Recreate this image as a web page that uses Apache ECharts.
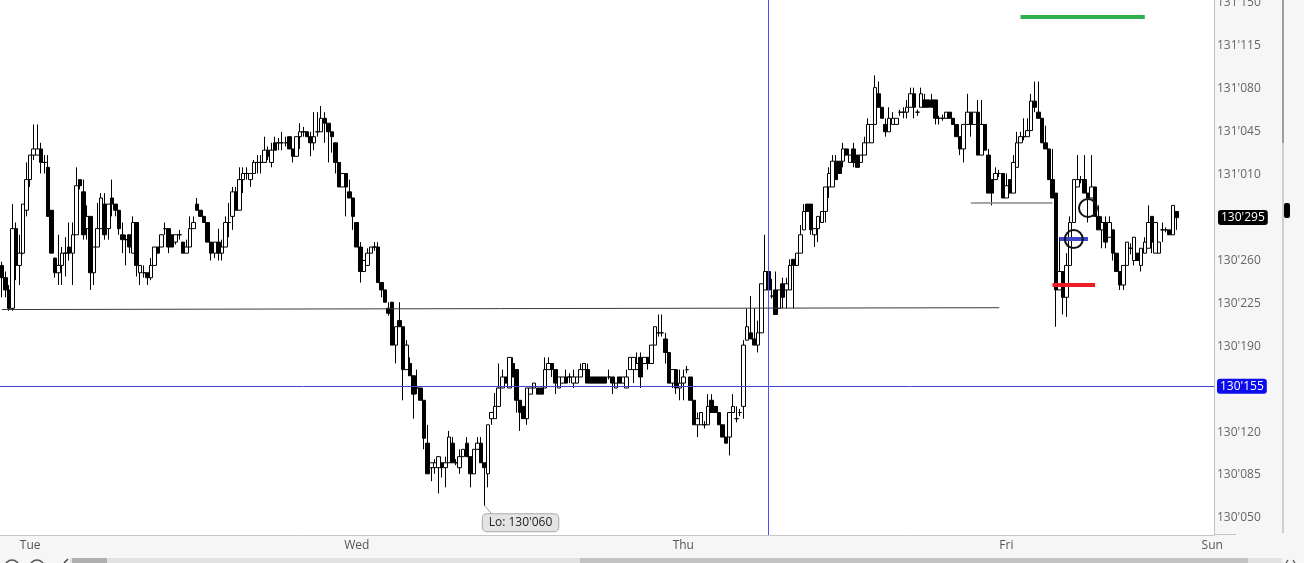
<!DOCTYPE html>
<html>
<head>
<meta charset="utf-8">
<script src="https://cdn.jsdelivr.net/npm/echarts@6/dist/echarts.min.js"></script>
<style>
  html, body { margin: 0; padding: 0; background: #f6f6f6; }
  #chart { width: 1304px; height: 563px; }
</style>
</head>
<body>
<div id="chart"></div>
<script>
// prices are kept in 32nds above 130 (29.5 -> 130'295, 33 -> 131'010)
// each bar: [open, close, low, high]
const monBars = [
  [25.6,24.6,23.0,25.9],[24.6,23.6,23.0,25.1],[23.6,22.1,21.9,24.0],[22.1,28.6,21.9,30.6],
  [28.6,25.6,24.4,29.1],[25.6,26.6,24.0,28.1],[26.6,30.6,26.5,30.6],[30.1,32.6,29.6,34.0]
];
const tueBars = [
  [32.6,34.6,32.0,34.6],[34.6,35.1,34.2,37.1],[34.6,35.1,34.6,37.1],[35.1,34.0,33.1,35.6],
  [34.0,34.0,33.1,34.6],[33.6,29.6,29.6,34.6],[30.1,26.6,26.6,30.1],[26.2,25.0,24.6,26.2],
  [25.0,25.6,24.0,28.1],[25.6,26.6,24.0,27.1],[26.6,26.6,24.7,27.9],[27.1,26.6,26.0,29.1],
  [26.6,28.1,24.0,29.1],[28.1,32.1,28.1,33.6],[32.6,32.1,31.8,32.6],[31.6,28.1,27.7,32.6],
  [28.6,29.6,27.7,30.5],[29.6,25.0,23.6,29.6],[25.0,27.1,24.0,27.1],[27.1,28.6,27.1,30.7],
  [28.6,31.1,28.6,31.5],[30.6,28.1,27.7,31.5],[28.6,30.6,27.7,30.6],[31.1,30.6,29.6,32.6],
  [30.6,30.1,29.6,30.6],[30.1,28.6,28.1,30.1],[28.1,27.7,26.6,29.1],[27.7,27.7,25.6,28.1],
  [28.1,27.1,26.6,28.1],[26.6,29.1,26.6,29.6],[29.1,25.6,24.7,29.1],[25.0,25.6,24.0,25.6],
  [25.0,25.0,24.6,25.6],[25.0,24.6,24.0,25.0],[24.6,25.6,24.4,26.2],[25.6,27.1,25.6,27.1],
  [27.1,26.6,26.6,27.1],[27.1,28.1,27.1,28.1],[28.6,28.6,28.1,29.1],[28.6,27.1,26.6,28.6],
  [28.1,27.1,27.1,28.1],[27.5,28.1,27.3,28.1],[28.1,28.1,27.7,28.5],[27.5,26.6,26.6,27.5],
  [26.6,27.1,26.6,27.7],[27.1,28.6,27.1,29.6],[28.6,29.1,28.6,29.6],[30.6,30.1,30.1,31.1],
  [30.1,29.6,29.6,30.1],[29.6,29.1,29.1,29.6],[29.1,27.5,27.5,29.1],[27.5,26.6,26.0,27.5],
  [26.6,27.5,26.2,27.5],[27.5,26.6,26.0,28.6],[26.6,27.1,26.0,27.7],[27.1,29.1,27.1,29.6],
  [29.1,29.1,27.9,30.7],[29.6,31.6,28.5,32.0],[31.6,30.1,30.1,32.0],[30.1,32.6,30.1,33.6],
  [32.6,33.1,31.5,33.6],[33.1,33.1,32.6,33.6],[32.6,33.1,32.0,33.1],[33.1,34.0,33.1,34.2],
  [34.0,34.0,33.1,34.6],[34.0,34.0,33.1,34.6],[34.0,35.0,34.0,36.1],[35.0,34.5,34.2,35.3],
  [34.0,35.0,33.6,35.6],[35.6,35.0,35.0,36.1],[35.6,35.6,35.0,36.0],[35.6,35.6,35.0,36.5],
  [35.6,35.6,35.3,36.1],[36.1,35.1,35.1,36.1],[35.1,34.5,34.0,35.1],[34.5,36.1,34.5,36.1],
  [36.1,36.5,35.1,37.2],[36.5,36.5,36.1,36.9],[36.5,36.1,36.1,36.5],[36.1,35.6,34.5,36.5],
  [35.6,36.1,35.0,38.1],[36.5,36.5,36.1,38.1],[36.5,37.6,36.5,38.6],[37.6,37.2,35.6,38.1],
  [37.2,36.5,34.0,37.2],[36.5,36.1,34.8,36.5],[35.6,34.0,33.1,35.6],[34.0,32.0,32.0,34.0],
  [32.0,33.1,32.0,33.1],[33.1,32.0,29.6,33.1],[31.6,31.1,31.1,32.6],[31.1,29.6,28.5,31.1]
];
const wedBars = [
  [29.1,27.1,27.1,29.1],[27.1,25.1,24.2,27.5],[25.1,26.0,25.1,26.0],[25.6,26.6,25.6,27.0],
  [26.6,27.1,26.6,27.1],[27.1,27.1,26.8,27.5],[27.1,24.2,24.2,27.5],[24.2,23.6,23.0,24.2],
  [23.6,22.6,22.6,23.6],[22.1,21.7,21.5,22.6],[22.6,19.1,19.1,22.6],[19.1,20.6,17.6,20.6],
  [21.1,20.6,20.6,22.6],[20.6,17.1,14.6,20.6],[17.1,19.1,17.1,19.5],[17.6,16.6,16.6,18.1],
  [16.6,15.1,13.1,16.6],[15.6,15.6,15.1,17.1],[15.6,14.6,14.6,15.6],[14.6,11.5,10.6,14.6],
  [11.1,8.6,8.6,12.6],[9.1,9.5,8.0,9.5],[9.1,9.5,8.6,9.8],[9.1,10.0,7.0,10.0],
  [9.5,9.1,8.3,9.5],[9.1,9.5,7.5,10.0],[9.5,11.6,9.5,12.1],[11.1,9.5,9.5,11.6],
  [9.5,9.5,9.3,9.8],[9.1,10.0,8.6,10.6],[10.0,10.6,10.0,10.6],[11.1,10.0,10.0,11.6],
  [10.0,8.6,7.5,10.0],[8.6,10.6,8.6,10.6],[10.6,11.1,10.6,11.6],[11.1,9.5,9.5,11.6],
  [9.5,9.1,6.0,9.5],[8.6,12.6,7.5,12.6],[13.1,13.6,12.6,13.6],[13.1,14.1,13.1,15.2],
  [14.1,15.6,14.1,17.6],[15.6,16.5,15.6,17.1],[16.5,16.0,16.0,16.5],[15.6,18.1,15.6,18.1],
  [17.6,16.5,16.5,18.1],[17.1,14.6,13.6,17.1],[14.6,13.6,12.1,14.6],[14.1,13.1,13.1,14.1],
  [13.1,15.6,12.6,15.6],[15.1,15.6,15.1,15.6],[15.6,16.0,15.6,16.0],[15.6,15.1,15.1,15.6],
  [15.6,15.1,15.1,15.6],[15.6,17.1,15.6,18.1],[17.1,17.6,17.1,18.1],[17.6,17.1,16.5,17.6],
  [17.1,16.0,15.1,17.1],[15.6,16.5,15.6,16.5],[16.0,16.5,16.0,16.5],[16.5,16.0,16.0,17.1],
  [16.5,16.5,16.0,16.8],[16.0,16.5,15.6,17.1],[16.0,16.5,16.0,16.5],[16.5,17.1,16.5,17.6],
  [17.1,17.6,17.1,17.6],[17.1,16.0,16.0,17.6],[16.5,16.0,16.0,16.5],[16.5,16.0,16.0,16.5],
  [16.5,16.0,16.0,16.5],[16.5,16.0,16.0,16.5],[16.5,16.0,16.0,16.5],[16.5,16.5,16.3,17.1],
  [16.5,16.0,15.1,16.5],[15.6,16.0,15.6,16.0],[16.5,16.0,16.0,16.5],[16.0,16.5,16.0,16.5],
  [15.6,16.5,15.6,17.1],[17.1,18.1,17.1,18.1],[17.1,18.1,16.0,18.1],[17.1,17.6,17.1,18.5],
  [18.1,16.5,15.6,18.5],[17.6,18.1,17.6,18.1],[18.1,17.6,17.1,18.1],[17.6,19.1,17.6,19.1],
  [19.1,20.6,19.1,20.6],[20.1,20.1,19.8,21.6],[20.1,20.1,19.8,21.6],[19.6,18.5,17.6,20.1],
  [18.5,16.0,16.0,18.5],[16.0,17.1,15.6,17.1],[17.1,15.6,15.1,17.1],[15.6,16.0,14.6,17.1]
];
const thuBars = [
  [16.0,16.5,14.6,17.1],[17.1,17.1,16.8,17.4],[16.5,14.6,14.6,16.5],[14.6,12.6,12.6,14.6],
  [12.6,13.1,11.6,13.6],[12.6,13.6,12.6,13.6],[12.6,12.6,12.3,12.9],[12.6,14.1,12.6,15.1],
  [14.6,13.6,13.6,15.1],[14.1,13.6,13.6,14.1],[13.6,12.6,12.6,13.6],[12.6,11.6,11.6,12.6],
  [11.6,11.1,11.1,11.6],[11.6,13.6,10.1,13.6],[13.6,14.1,13.6,15.1],[13.1,13.1,12.8,14.1],
  [13.6,13.6,13.3,13.9],[14.1,19.1,13.1,19.5],[19.5,20.6,19.5,22.1],[20.1,19.6,19.6,23.1],
  [19.6,19.1,19.1,22.1],[19.1,20.1,18.5,21.1],[20.1,24.1,20.1,24.1],[23.6,25.1,23.6,28.1],
  [25.1,23.6,23.1,26.2],[23.1,23.1,22.9,24.5],[23.6,21.6,21.6,25.1],[22.1,23.6,22.1,23.6],
  [24.1,23.0,22.1,24.6],[23.6,24.1,22.1,24.6],[23.6,25.6,23.6,26.1],[26.1,25.6,22.1,26.1],
  [25.6,26.6,25.6,26.6],[26.6,28.1,26.6,28.9],[28.5,30.0,28.5,30.6],[30.6,30.0,30.0,30.6],
  [30.6,28.5,28.1,30.6],[28.1,28.6,27.1,28.6],[28.6,29.6,27.5,29.6],[29.1,30.0,29.1,30.0],
  [30.0,32.0,29.1,32.0],[32.0,33.1,31.1,33.6],[32.0,34.1,32.0,34.6],[34.1,32.6,32.6,34.6],
  [34.1,33.1,33.1,34.1],[34.1,35.1,33.6,35.6],[35.1,34.6,34.6,35.1],[34.0,34.6,34.0,34.6],
  [35.1,34.0,33.6,35.6],[34.6,33.6,33.6,34.6],[34.0,34.6,34.0,34.6],[34.6,35.6,34.6,36.1],
  [35.6,37.1,35.6,37.6],[35.6,37.1,35.6,37.1],[37.1,40.1,37.1,41.1],[39.6,38.5,38.5,40.6],
  [38.5,37.6,37.6,38.5],[37.1,36.5,36.1,37.6],[36.5,37.6,36.5,38.5],[37.1,37.6,37.1,38.1],
  [37.1,37.6,37.1,37.6],[38.1,38.1,37.8,38.3],[38.1,38.1,37.6,38.5],[38.1,38.5,37.6,39.1],
  [38.5,39.6,38.5,40.1],[39.6,38.5,37.6,40.1],[38.1,38.1,37.8,38.3],[38.5,39.6,38.5,40.1],
  [39.1,38.5,38.5,39.6],[39.1,38.5,38.5,39.1],[39.1,38.5,38.5,39.6],[39.1,37.6,37.1,39.1],
  [37.6,37.6,37.1,37.8],[37.6,37.6,37.4,37.9],[37.6,38.1,37.6,38.1],[38.1,37.6,37.6,38.1],
  [37.6,37.1,37.1,37.6],[37.1,36.1,36.1,37.1],[36.1,35.1,34.6,36.1],[35.1,37.1,34.0,37.1],
  [37.1,38.1,37.1,39.6],[38.1,37.1,36.1,38.1],[37.1,38.1,37.1,38.1],[38.1,34.6,34.6,39.1],
  [34.6,37.1,34.6,39.1],[37.1,35.0,35.0,37.1],[34.6,31.5,31.5,35.1],[32.6,31.5,30.5,32.6],
  [32.6,33.1,32.6,33.6],[33.1,33.1,32.8,33.4],[33.1,31.1,31.1,33.1]
];
const friBars = [
  [31.1,32.1,31.1,33.1],[32.6,31.5,31.5,32.6],[31.5,34.0,31.5,34.6],[33.6,35.6,33.6,36.5],
  [35.6,36.1,35.6,36.5],[36.1,36.1,35.8,37.6],[36.1,36.6,36.1,37.6],[36.6,39.0,36.6,39.6],
  [39.0,38.5,38.1,40.6],[38.1,37.6,37.6,40.6],[37.6,35.6,35.6,37.6],[35.6,35.1,35.1,37.0],
  [35.1,32.6,32.6,35.1],[32.6,31.1,31.1,35.1],[31.5,23.6,20.6,31.5],[23.6,25.1,23.6,27.9],
  [25.1,23.0,21.6,25.1],[23.0,25.6,21.4,26.6],[25.6,29.1,25.6,29.6],[29.1,32.6,29.1,32.6],
  [32.0,32.6,32.0,34.6],[32.6,32.6,32.3,32.9],[32.6,31.5,31.5,34.6],[31.5,31.1,29.1,31.5],
  [31.1,32.0,31.1,34.6],[32.0,29.6,29.6,32.0],[29.6,28.5,28.5,30.5],[28.5,29.1,27.0,29.6],
  [29.1,27.5,27.0,29.6],[27.9,29.1,27.9,29.6],[28.5,26.6,26.0,28.5],[26.6,25.1,25.1,26.6],
  [25.1,24.0,23.6,25.1],[24.0,25.6,23.6,25.6],[25.6,27.5,25.6,27.5],[27.0,27.0,26.5,27.4],
  [26.0,27.9,25.6,27.9],[26.6,26.0,26.0,26.6],[25.6,27.0,25.1,27.0],[26.6,27.5,26.6,27.9],
  [27.0,29.1,27.0,30.5],[29.6,27.5,26.6,29.6],[26.6,29.1,26.6,29.1],[26.6,27.5,26.6,27.5],
  [28.5,28.5,27.5,29.1],[28.5,28.5,28.3,28.7],[28.5,28.1,28.1,28.5],[28.1,30.5,28.1,30.5],
  [30.0,29.5,28.5,30.0]
];

// time axis: 15 minute slots, day names shown where a session day starts
const slotCount = 342;
const dayStarts = [8, 100, 192, 283, 341];
const dayNames = ['Tue', 'Wed', 'Thu', 'Fri', 'Sun'];

// price axis ticks (32nds above 130)
const priceTicks = [5, 8.5, 12, 15.5, 19, 22.5, 26, 29.5, 33, 36.5, 40, 43.5, 47];

// drawn studies, in [slot, price]
const currentPrice = 15.75;
const cursorSlot = 216;
const trendLine = [[0, 22.0], [281, 22.15]];
const grayLevel = [[273.3, 30.7], [296.1, 30.7]];
const redLevel = [[295.6, 24.0], [307.7, 24.0]];
const blueLevel = [[298.1, 27.75], [306, 27.75]];
const greenLevel = [[286.8, 45.86], [322, 45.86]];
const circleMarks = [[301.5, 27.75], [306, 30.28]];

const bars = monBars.concat(tueBars, wedBars, thuBars, friBars);

function fmt32(v) {
  const half = Math.floor(v * 2 + 1e-6) / 2;
  const whole = Math.floor(half / 32);
  const frac = half - whole * 32;
  return (130 + whole) + "'" + String(Math.round(frac * 10)).padStart(3, '0');
}

const categories = [];
for (let i = 0; i < slotCount; i++) {
  let d = -1;
  for (let k = 0; k < dayStarts.length; k++) if (i >= dayStarts[k]) d = k;
  const name = d < 0 ? 'Mon' : dayNames[d];
  const mins = d < 0 ? 24 * 60 - (dayStarts[0] - i) * 15 : (i - dayStarts[d]) * 15;
  categories.push(name + ' ' + String(Math.floor(mins / 60)).padStart(2, '0') + ':' + String(mins % 60).padStart(2, '0'));
}

let loIdx = 0;
bars.forEach((b, i) => { if (b[2] < bars[loIdx][2]) loIdx = i; });
const loVal = bars[loIdx][2];
const lastClose = bars[bars.length - 1][1];

function seg(pts, color, width) {
  const ls = { color: color, width: width, type: 'solid', cap: 'butt' };
  return [{ coord: pts[0], lineStyle: ls }, { coord: pts[1], lineStyle: ls }];
}

const chart = echarts.init(document.getElementById('chart'));
chart.setOption({
  animation: false,
  backgroundColor: '#f6f6f6',
  textStyle: { fontFamily: 'Open Sans' },
  grid: {
    left: 0, right: 90, top: 0, bottom: 28,
    show: true, backgroundColor: '#ffffff', borderWidth: 0,
    containLabel: false, outerBoundsMode: 'none'
  },
  xAxis: {
    type: 'category',
    data: categories,
    boundaryGap: true,
    axisLine: { show: true, lineStyle: { color: '#c6c6c6', width: 1 } },
    axisTick: { show: false },
    splitLine: { show: false },
    axisLabel: {
      color: '#555', fontSize: 12, margin: 5,
      interval: (i) => dayStarts.indexOf(i) >= 0,
      formatter: (v) => v.split(' ')[0]
    }
  },
  yAxis: {
    type: 'value',
    position: 'right',
    min: 3.61,
    max: 47.25,
    axisLine: { show: true, lineStyle: { color: '#c0c0c0', width: 1 } },
    axisTick: { show: false },
    splitLine: { show: false },
    axisLabel: {
      color: '#666', fontSize: 12, margin: 3,
      customValues: priceTicks,
      formatter: (v) => fmt32(v)
    }
  },
  graphic: [
    { type: 'rect', z: 5, shape: { x: 1282, y: 0, width: 2, height: 143 }, style: { fill: '#9c9c9c' } },
    { type: 'rect', z: 5, shape: { x: 1282, y: 143, width: 2, height: 390 }, style: { fill: '#cfcfcf' } },
    { type: 'rect', z: 5, shape: { x: 1284, y: 203, width: 6, height: 15, r: 2 }, style: { fill: '#000' } },
    { type: 'line', z: 5, shape: { x1: 1214, y1: 534.5, x2: 1236, y2: 534.5 }, style: { stroke: '#c6c6c6', lineWidth: 1 } },
    { type: 'rect', z: 5, shape: { x: 70, y: 558, width: 1212, height: 5 }, style: { fill: '#e2e2e2' } },
    { type: 'rect', z: 5, shape: { x: 72, y: 558, width: 35, height: 5 }, style: { fill: '#b0b0b0' } },
    { type: 'rect', z: 5, shape: { x: 580, y: 558, width: 668, height: 5 }, style: { fill: '#c2c2c2' } },
    { type: 'circle', z: 5, shape: { cx: 12, cy: 567, r: 7 }, style: { fill: 'none', stroke: '#555', lineWidth: 1.5 } },
    { type: 'circle', z: 5, shape: { cx: 37, cy: 567, r: 7 }, style: { fill: 'none', stroke: '#555', lineWidth: 1.5 } },
    { type: 'polyline', z: 5, shape: { points: [[68, 559], [64, 563]] }, style: { stroke: '#444', lineWidth: 1.5 } },
    { type: 'polyline', z: 5, shape: { points: [[1288, 560], [1286, 563]] }, style: { stroke: '#444', lineWidth: 1.2 } },
    { type: 'polyline', z: 5, shape: { points: [[1293, 560], [1295, 563]] }, style: { stroke: '#444', lineWidth: 1.2 } }
  ],
  series: [{
    type: 'candlestick',
    data: bars,
    barWidth: 4,
    itemStyle: {
      color: '#ffffff', color0: '#000000',
      borderColor: '#000000', borderColor0: '#000000', borderColorDoji: '#000000',
      borderWidth: 1
    },
    markLine: {
      silent: true,
      symbol: ['none', 'none'],
      label: { show: false },
      lineStyle: { type: 'solid' },
      data: [
        {
          yAxis: currentPrice,
          lineStyle: { color: '#4242cf', width: 1, type: 'solid' },
          label: {
            show: true, position: 'end', distance: 3,
            formatter: (p) => fmt32(p.value),
            color: '#fff', fontSize: 12, backgroundColor: '#0b0bef',
            borderRadius: 3, padding: [2, 3, 1, 3]
          }
        },
        {
          yAxis: lastClose,
          lineStyle: { color: 'rgba(0,0,0,0)', width: 1 },
          label: {
            show: true, position: 'end', distance: 4,
            formatter: (p) => fmt32(p.value),
            color: '#fff', fontSize: 12, backgroundColor: '#000',
            borderRadius: 3, padding: [2, 3, 1, 3]
          }
        },
        { xAxis: cursorSlot, lineStyle: { color: '#4d4dff', width: 1, type: 'solid' } },
        seg(trendLine, '#3a3a3a', 1),
        seg(grayLevel, '#8a8a8a', 1.5),
        seg(redLevel, '#ee1d25', 4),
        seg(blueLevel, '#3a46c6', 4),
        seg(greenLevel, '#2fb04c', 4),
        seg([[loIdx, loVal], [loIdx + 1.7, loVal - 0.65]], '#9a9a9a', 1)
      ]
    },
    markPoint: {
      silent: true,
      data: [
        {
          coord: [loIdx, loVal],
          symbol: 'rect', symbolSize: 1,
          itemStyle: { color: 'rgba(0,0,0,0)' },
          label: {
            show: true, position: 'inside', offset: [36, 17],
            formatter: 'Lo: ' + fmt32(loVal),
            color: '#222', fontSize: 12,
            backgroundColor: '#e4e4e4', borderColor: '#a8a8a8', borderWidth: 1,
            borderRadius: 4, padding: [3, 6, 2, 6]
          }
        }
      ].concat(circleMarks.map((c) => ({
        coord: c,
        symbol: 'circle', symbolSize: 18,
        itemStyle: { color: 'rgba(0,0,0,0)', borderColor: '#111', borderWidth: 2 },
        label: { show: false }
      })))
    }
  }]
});
</script>
</body>
</html>
